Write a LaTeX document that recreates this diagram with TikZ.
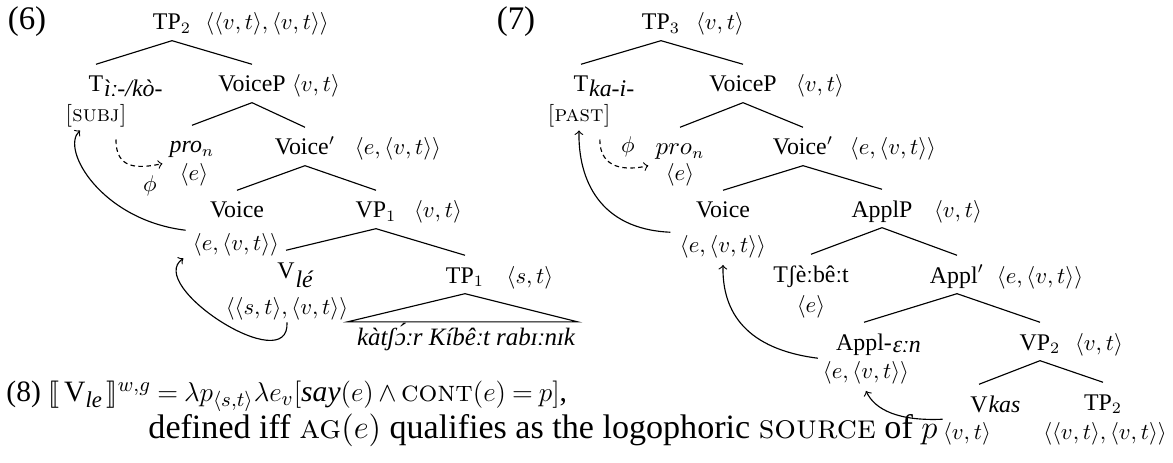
\documentclass[tikz,border=0pt]{standalone}
\usepackage{fontspec}
\setmainfont{Liberation Serif}
\usepackage{stmaryrd}
\usepackage{tikz}
\usetikzlibrary{calc}
\newcommand{\smc}[1]{{\fontfamily{lmr}\selectfont\scshape #1}}
\tikzstyle{cat}       = [anchor=base, inner sep=0pt, text height=12pt, text depth=4.5pt, font=\fontsize{10.5}{12.6}\selectfont]
\tikzstyle{typ}       = [anchor=base, inner sep=1pt]
\tikzstyle{subs}      = [anchor=base west, inner sep=0pt, font=\fontsize{10.5}{12.6}\selectfont\itshape]
\tikzstyle{exno}      = [anchor=base, inner sep=0pt, font=\fontsize{14.5}{17}\selectfont]
\tikzstyle{big}       = [anchor=base west, inner sep=0pt, font=\fontsize{14.5}{17}\selectfont]
\tikzstyle{branch}    = [line width=0.5pt]
\tikzstyle{arrow}     = [line width=0.5pt, ->]
\tikzstyle{dasharrow} = [arrow, dash pattern=on 2pt off 1.5pt]

\begin{document}
\begin{tikzpicture}[x=0.44pt, y=-0.44pt]
    \useasboundingbox (0,0) rectangle (1173,462);

    % (6)
    \node[exno] (ex6) at (27,30) {(6)};
    \node[cat] (tp6)    at (172,30)  {TP$_2$};
    \node[typ] (tp6ty)  at (267,30)  {$\langle\langle v,t\rangle,\langle v,t\rangle\rangle$};
    \node[cat] (t6)     at (96,92)   {T};
    \node[subs] (t6sub) at ([yshift=-2pt]t6.base east) {ìː-/kò-};
    \node[typ] (subj6)  at (96,122)  {\smc{[subj]}};
    \node[cat] (vp6)    at (252,92)  {VoiceP};
    \node[typ] (vp6ty)  at (316,92)  {$\langle v,t\rangle$};
    \node[cat] (pro6)   at (192,153) {\textit{pro}$_n$};
    \node[typ] (pro6ty) at (194,181) {$\langle e\rangle$};
    \node[cat] (vbar6)  at (305,155) {Voice$'$};
    \node[typ] (vbar6ty) at (398,155) {$\langle e,\langle v,t\rangle\rangle$};
    \node[cat] (voice6) at (237,218) {Voice};
    \node[typ] (voice6ty) at (236,250) {$\langle e,\langle v,t\rangle\rangle$};
    \node[cat] (vpone)  at (376,218) {VP$_1$};
    \node[typ] (vponety) at (438,218) {$\langle v,t\rangle$};
    \node[cat] (v6)     at (286,278) {V};
    \node[subs] (v6sub) at ([yshift=-4pt]v6.base east) {lé};
    \node[typ] (v6ty)   at (287,314) {$\langle\langle s,t\rangle,\langle v,t\rangle\rangle$};
    \node[cat] (tpone)  at (465,283) {TP$_1$};
    \node[typ] (tponety) at (530,283) {$\langle s,t\rangle$};
    \node[anchor=base, inner xsep=0pt, inner ysep=2pt, text height=8pt, font=\fontsize{11}{13}\selectfont\itshape] (yield6) at (466,345) {kàtʃɔ́ːr Kíbêːt rabɪːnɪk};
    \node[typ] (phi6)   at (150,191) {$\phi$};

    \draw[branch] (tp6.south) -- (t6.north);
    \draw[branch] (tp6.south) -- (vp6.north);
    \draw[branch] (vp6.south) -- (pro6.north);
    \draw[branch] (vp6.south) -- (vbar6.north);
    \draw[branch] (vbar6.south) -- (voice6.north);
    \draw[branch] (vbar6.south) -- (vpone.north);
    \draw[branch] (vpone.south) -- (v6.north);
    \draw[branch] (vpone.south) -- (tpone.north);
    \draw[branch] (tpone.south) -- ([xshift=-4pt]yield6.north west) -- ([xshift=1pt]yield6.north east) -- cycle;

    \draw[dasharrow] ([xshift=-6pt,yshift=-4pt]subj6.south east) .. controls +(0,30) and +(-25,5) .. ([xshift=-3pt]pro6.south west);
    \draw[arrow] ([xshift=-2pt]voice6ty.north west) .. controls +(-84,-10) and +(-20,19) .. ([xshift=-7pt]subj6.south);
    \draw[arrow] (v6ty.south) .. controls +(3,57) and +(-39,27) .. ([xshift=-3pt]voice6ty.south west);

    % (7)
    \node[exno] (ex7) at (516,30) {(7)};
    \node[cat] (tp7)    at (661,30)  {TP$_3$};
    \node[typ] (tp7ty)  at (720,30)  {$\langle v,t\rangle$};
    \node[cat] (t7)     at (581,92)  {T};
    \node[subs] (t7sub) at ([yshift=-2pt]t7.base east) {ka-i-};
    \node[typ] (past7)  at (579,122) {\smc{[past]}};
    \node[cat] (vp7)    at (743,92)  {VoiceP};
    \node[typ] (vp7ty)  at (820,92)  {$\langle v,t\rangle$};
    \node[cat] (pro7)   at (680,155) {$pro_n$};
    \node[typ] (pro7ty) at (680,181) {$\langle e\rangle$};
    \node[typ] (phi7)   at (628,153) {$\phi$};
    \node[cat] (vbar7)  at (803,155) {Voice$'$};
    \node[typ] (vbar7ty) at (893,155) {$\langle e,\langle v,t\rangle\rangle$};
    \node[cat] (voice7) at (723,218) {Voice};
    \node[typ] (voice7ty) at (723,252) {$\langle e,\langle v,t\rangle\rangle$};
    \node[cat] (applp)  at (882,217) {ApplP};
    \node[typ] (applpty) at (958,217) {$\langle v,t\rangle$};
    \node[cat] (tsh)    at (811,282) {Tʃèːbêːt};
    \node[typ] (tshty)  at (811,312) {$\langle e\rangle$};
    \node[cat] (applbar) at (957,283) {Appl$'$};
    \node[typ] (applbarty) at (1040,283) {$\langle e,\langle v,t\rangle\rangle$};
    \node[cat] (appl)   at (864,350) {Appl-};
    \node[subs] (applsub) at ([yshift=-1pt]appl.base east) {ɛːn};
    \node[typ] (applty) at (866,378) {$\langle e,\langle v,t\rangle\rangle$};
    \node[cat] (vptwo)  at (1040,350) {VP$_2$};
    \node[typ] (vptwoty) at (1099,350) {$\langle v,t\rangle$};
    \node[cat] (vkas)   at (979,412) {V};
    \node[subs] (vkassub) at (vkas.base east) {kas};
    \node[typ] (vkasty) at (967,439) {$\langle v,t\rangle$};
    \node[cat] (tptwo)  at (1103,410) {TP$_2$};
    \node[typ] (tptwoty) at (1105,439) {$\langle\langle v,t\rangle,\langle v,t\rangle\rangle$};

    \draw[branch] (tp7.south) -- (t7.north);
    \draw[branch] (tp7.south) -- (vp7.north);
    \draw[branch] (vp7.south) -- (pro7.north);
    \draw[branch] (vp7.south) -- (vbar7.north);
    \draw[branch] (vbar7.south) -- (voice7.north);
    \draw[branch] (vbar7.south) -- (applp.north);
    \draw[branch] (applp.south) -- (tsh.north);
    \draw[branch] (applp.south) -- (applbar.north);
    \draw[branch] (applbar.south) -- (appl.north);
    \draw[branch] (applbar.south) -- (vptwo.north);
    \draw[branch] (vptwo.south) -- (vkas.north);
    \draw[branch] (vptwo.south) -- (tptwo.north);

    \draw[dasharrow] ([xshift=-6pt,yshift=-4pt]past7.south east) .. controls +(0,30) and +(-22,5) .. ([xshift=-3pt]pro7.south west);
    \draw[arrow] ([xshift=-3pt]voice7ty.north west) .. controls +(-71,-3) and +(-1,49) .. (past7.south);
    \draw[arrow] ([xshift=-1pt]applty.north west) .. controls +(-71,-9) and +(-1,48) .. ([yshift=-2pt]voice7ty.south);
    \draw[arrow] ([xshift=1pt]vkasty.north west) .. controls +(-44,2) and +(9,19) .. ([yshift=-2pt]applty.south);

    % (8)
    \node[big, font=\fontsize{13}{16}\selectfont] (eq8a) at (6,401) {(8) $\llbracket$\,V\raisebox{-3pt}{\fontsize{10}{12}\selectfont\itshape le}\,$\rrbracket^{w,g} \thickmuskip=4mu \medmuskip=3mu = \lambda p_{\langle s,t\rangle}\lambda e_v[\mbox{\itshape say}(e)\wedge\mbox{\smc{cont}}(e)=p]$,};
    \node[big, font=\fontsize{15}{18}\selectfont] (eq8b) at (148,438) {defined iff \smc{ag}$(e)$ qualifies as the logophoric \smc{source} of $p$};

\end{tikzpicture}
\end{document}
